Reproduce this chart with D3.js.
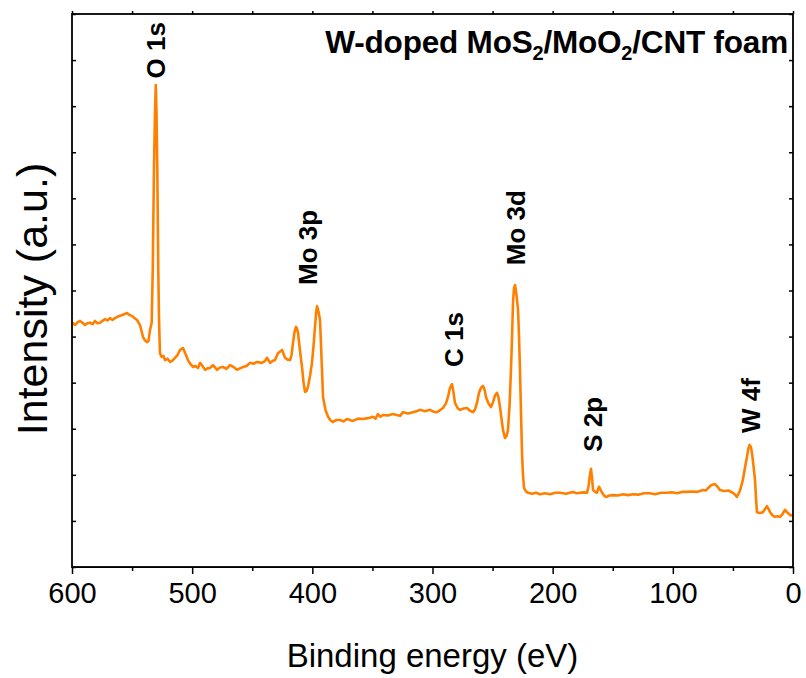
<!DOCTYPE html>
<html>
<head>
<meta charset="utf-8">
<script src="https://cdn.jsdelivr.net/npm/d3@7"></script>
<style>
  body { margin: 0; background: white; }
  svg { display: block; }
</style>
</head>
<body>
<div id="chart"></div>
<script>
// XPS survey spectrum (binding energy in eV, intensity in a.u.)
const energy = [
  599.4, 597.5, 595.4, 593.3, 591.3, 589.2, 587.1, 585.0, 582.9, 580.9, 578.8, 576.7, 574.6, 572.5, 570.5,
  568.4, 566.3, 564.2, 562.2, 560.1, 557.2, 554.2, 552.2, 550.1, 548.0, 545.9, 543.4, 540.9, 539.3, 537.6,
  536.4, 535.1, 533.7, 532.8, 531.8, 530.9, 530.3, 529.7, 529.0, 528.2, 527.6, 526.8, 525.4, 523.9, 522.6,
  520.5, 518.4, 516.4, 514.3, 512.2, 510.1, 507.6, 505.5, 503.5, 501.4, 499.3, 497.2, 495.1, 493.4, 491.4,
  489.3, 487.3, 485.2, 482.7, 481.0, 479.3, 476.8, 474.3, 471.4, 468.5, 465.6, 462.7, 460.2, 457.7, 454.8,
  451.9, 449.0, 446.0, 441.9, 439.4, 437.7, 435.2, 433.1, 431.1, 428.6, 425.2, 422.7, 420.6, 418.6, 417.3,
  416.1, 414.8, 413.6, 412.8, 411.9, 410.3, 408.6, 407.3, 406.1, 404.8, 403.6, 401.9, 400.3, 399.0, 397.8,
  396.9, 396.1, 394.9, 393.6, 392.3, 391.1, 389.0, 386.9, 384.8, 382.8, 379.9, 377.0, 374.1, 371.2, 368.7,
  366.2, 362.0, 357.8, 353.7, 349.5, 347.4, 345.4, 343.3, 341.2, 337.1, 332.9, 330.0, 327.0, 324.6, 320.4,
  316.2, 313.3, 310.4, 306.2, 302.1, 299.2, 296.3, 293.8, 291.3, 288.8, 287.1, 285.5, 283.8, 282.6, 281.3,
  279.2, 277.1, 274.2, 271.3, 268.8, 266.3, 264.6, 263.0, 261.3, 259.6, 258.0, 256.7, 255.5, 253.4, 251.3,
  249.6, 248.0, 246.3, 245.1, 243.8, 242.5, 241.3, 239.7, 238.4, 237.2, 235.9, 234.7, 233.8, 233.0, 232.2,
  231.3, 230.1, 228.8, 228.0, 227.2, 226.3, 225.5, 224.7, 223.8, 222.2, 220.5, 217.2, 213.9, 210.5, 206.4,
  202.2, 198.0, 193.9, 188.9, 183.1, 180.2, 177.3, 174.0, 171.4, 170.2, 169.1, 168.1, 167.3, 166.4, 164.7,
  163.1, 162.3, 161.4, 160.2, 158.9, 157.2, 155.6, 152.7, 149.8, 145.6, 141.5, 137.3, 133.1, 129.0, 124.0,
  119.0, 114.8, 109.8, 104.9, 100.7, 96.5, 92.4, 88.2, 84.0, 79.9, 74.9, 72.4, 70.8, 67.9, 64.9,
  62.8, 60.8, 57.5, 53.7, 50.0, 48.3, 46.7, 44.2, 41.7, 40.0, 38.3, 37.1, 36.1, 35.0, 34.1,
  32.9, 31.6, 30.8, 30.0, 27.5, 25.0, 23.3, 21.7, 20.4, 19.1, 17.1, 15.0, 12.9, 10.8, 8.7,
  6.7, 5.4, 4.2, 2.1, 0.0
]
const intensity = [
  5.30, 5.25, 5.31, 5.34, 5.30, 5.25, 5.29, 5.30, 5.27, 5.34, 5.29, 5.30, 5.34, 5.38, 5.35,
  5.40, 5.36, 5.40, 5.43, 5.45, 5.48, 5.51, 5.47, 5.45, 5.40, 5.36, 5.25, 4.99, 4.92, 4.88,
  4.90, 5.14, 5.30, 6.45, 8.62, 9.90, 10.46, 9.90, 8.62, 6.45, 5.40, 4.64, 4.56, 4.58, 4.49,
  4.52, 4.45, 4.48, 4.54, 4.60, 4.71, 4.75, 4.62, 4.49, 4.40, 4.34, 4.36, 4.32, 4.43, 4.36,
  4.28, 4.31, 4.32, 4.38, 4.33, 4.28, 4.33, 4.34, 4.30, 4.38, 4.34, 4.28, 4.31, 4.34, 4.36,
  4.43, 4.41, 4.45, 4.43, 4.47, 4.54, 4.43, 4.47, 4.49, 4.64, 4.71, 4.54, 4.50, 4.49, 4.60,
  4.86, 5.10, 5.21, 5.18, 5.08, 4.70, 4.34, 4.00, 3.80, 3.82, 3.91, 4.15, 4.43, 4.80, 5.21,
  5.50, 5.66, 5.55, 5.36, 4.50, 3.69, 3.40, 3.26, 3.18, 3.15, 3.19, 3.19, 3.16, 3.21, 3.19,
  3.17, 3.22, 3.21, 3.23, 3.26, 3.22, 3.32, 3.26, 3.30, 3.29, 3.32, 3.30, 3.28, 3.36, 3.33,
  3.36, 3.38, 3.41, 3.38, 3.41, 3.37, 3.36, 3.40, 3.45, 3.55, 3.69, 3.88, 3.97, 3.80, 3.56,
  3.45, 3.41, 3.44, 3.45, 3.39, 3.36, 3.42, 3.56, 3.78, 3.89, 3.93, 3.85, 3.69, 3.55, 3.47,
  3.58, 3.72, 3.78, 3.68, 3.47, 3.20, 2.97, 2.80, 2.84, 2.97, 3.50, 4.28, 5.00, 5.73, 6.05,
  6.12, 5.90, 5.58, 5.00, 4.28, 3.30, 2.47, 2.00, 1.71, 1.64, 1.61, 1.59, 1.61, 1.58, 1.60,
  1.58, 1.61, 1.61, 1.59, 1.63, 1.60, 1.61, 1.62, 1.61, 1.74, 1.98, 2.13, 1.95, 1.67, 1.63,
  1.61, 1.68, 1.74, 1.68, 1.61, 1.55, 1.52, 1.55, 1.56, 1.55, 1.58, 1.56, 1.58, 1.57, 1.60,
  1.60, 1.58, 1.61, 1.61, 1.62, 1.60, 1.63, 1.63, 1.64, 1.63, 1.67, 1.66, 1.71, 1.78, 1.80,
  1.74, 1.67, 1.65, 1.66, 1.61, 1.57, 1.52, 1.65, 1.89, 2.15, 2.39, 2.58, 2.65, 2.60, 2.47,
  2.20, 1.89, 1.50, 1.19, 1.17, 1.19, 1.26, 1.32, 1.26, 1.19, 1.12, 1.09, 1.10, 1.09, 1.15,
  1.24, 1.20, 1.17, 1.12, 1.13
]

const xTicks = [600, 500, 400, 300, 200, 100, 0]
const xMinorTicks = [550, 450, 350, 250, 150, 50]
const yTicks = d3.range(0, 13)

// peak labels: name, energy of the label baseline, intensity where the label starts
const peakNames = ['O 1s', 'Mo 3p', 'C 1s', 'Mo 3d', 'S 2p', 'W 4f']
const peakEnergy = [522.5, 396, 274.5, 223, 159, 27.5]
const peakLabelY = [10.6, 6.12, 4.34, 6.55, 2.5, 2.91]

const width = 806, height = 678
const margin = {top: 14, right: 13, bottom: 111, left: 72}

const svg = d3.select('#chart').append('svg')
  .attr('width', width)
  .attr('height', height)
  .style('background', 'white')

const x = d3.scaleLinear().domain([600, 0]).range([margin.left, width - margin.right])
const y = d3.scaleLinear().domain([0, 12]).range([height - margin.bottom, margin.top])

const data = energy.map((e, i) => ({e: e, v: intensity[i]}))

// spectrum
svg.append('path')
  .datum(data)
  .attr('fill', 'none')
  .attr('stroke', '#ff8000')
  .attr('stroke-width', 2.6)
  .attr('stroke-linejoin', 'round')
  .attr('d', d3.line().x(d => x(d.e)).y(d => y(d.v)))

// axes
const bottom = svg.append('g')
  .attr('transform', `translate(0,${height - margin.bottom})`)
bottom.call(d3.axisBottom(x).tickValues(xMinorTicks).tickSize(4).tickFormat(''))
bottom.call(g => g.select('.domain').remove())
const bottomMajor = svg.append('g')
  .attr('transform', `translate(0,${height - margin.bottom})`)
  .call(d3.axisBottom(x).tickValues(xTicks).tickSize(7).tickSizeOuter(0).tickPadding(8))
bottomMajor.selectAll('text')
  .attr('font-family', 'Liberation Sans, Arial, sans-serif')
  .attr('font-size', 29)
  .attr('fill', '#000')

svg.append('g')
  .attr('transform', `translate(0,${margin.top})`)
  .call(d3.axisTop(x).tickValues(xTicks.concat(xMinorTicks)).tickSize(3).tickFormat(''))
  .call(g => g.select('.domain').remove())

svg.append('g')
  .attr('transform', `translate(${margin.left},0)`)
  .call(d3.axisLeft(y).tickValues(yTicks).tickSize(-4).tickFormat(''))
  .call(g => g.select('.domain').remove())
svg.append('g')
  .attr('transform', `translate(${width - margin.right},0)`)
  .call(d3.axisRight(y).tickValues(yTicks).tickSize(-4).tickFormat(''))
  .call(g => g.select('.domain').remove())

svg.selectAll('.tick line').attr('stroke', '#000').attr('stroke-width', 1.5)

// frame
svg.append('rect')
  .attr('x', margin.left)
  .attr('y', margin.top)
  .attr('width', width - margin.left - margin.right)
  .attr('height', height - margin.top - margin.bottom)
  .attr('fill', 'none')
  .attr('stroke', '#000')
  .attr('stroke-width', 1.8)

// axis titles
svg.append('text')
  .attr('x', (margin.left + width - margin.right) / 2)
  .attr('y', 667)
  .attr('text-anchor', 'middle')
  .attr('font-family', 'Liberation Sans, Arial, sans-serif')
  .attr('font-size', 33)
  .text('Binding energy (eV)')

svg.append('text')
  .attr('transform', `translate(47,299) rotate(-90)`)
  .attr('text-anchor', 'middle')
  .attr('font-family', 'Liberation Sans, Arial, sans-serif')
  .attr('font-size', 43)
  .text('Intensity (a.u.)')

// sample name
const title = svg.append('text')
  .attr('x', 788)
  .attr('y', 53)
  .attr('text-anchor', 'end')
  .attr('font-family', 'Liberation Sans, Arial, sans-serif')
  .attr('font-weight', 'bold')
  .attr('font-size', 31.5)
  .attr('letter-spacing', -0.2)
title.append('tspan').text('W-doped MoS')
title.append('tspan').attr('font-size', 20).attr('dy', 7).text('2')
title.append('tspan').attr('dy', -7).text('/MoO')
title.append('tspan').attr('font-size', 20).attr('dy', 7).text('2')
title.append('tspan').attr('dy', -7).text('/CNT foam')

// peak labels
svg.selectAll('.peak')
  .data(peakNames)
  .enter()
  .append('text')
  .attr('class', 'peak')
  .attr('transform', (d, i) => `translate(${x(peakEnergy[i])},${y(peakLabelY[i])}) rotate(-90)`)
  .attr('font-family', 'Liberation Sans, Arial, sans-serif')
  .attr('font-weight', 'bold')
  .attr('font-size', 26)
  .text(d => d)
</script>
</body>
</html>
